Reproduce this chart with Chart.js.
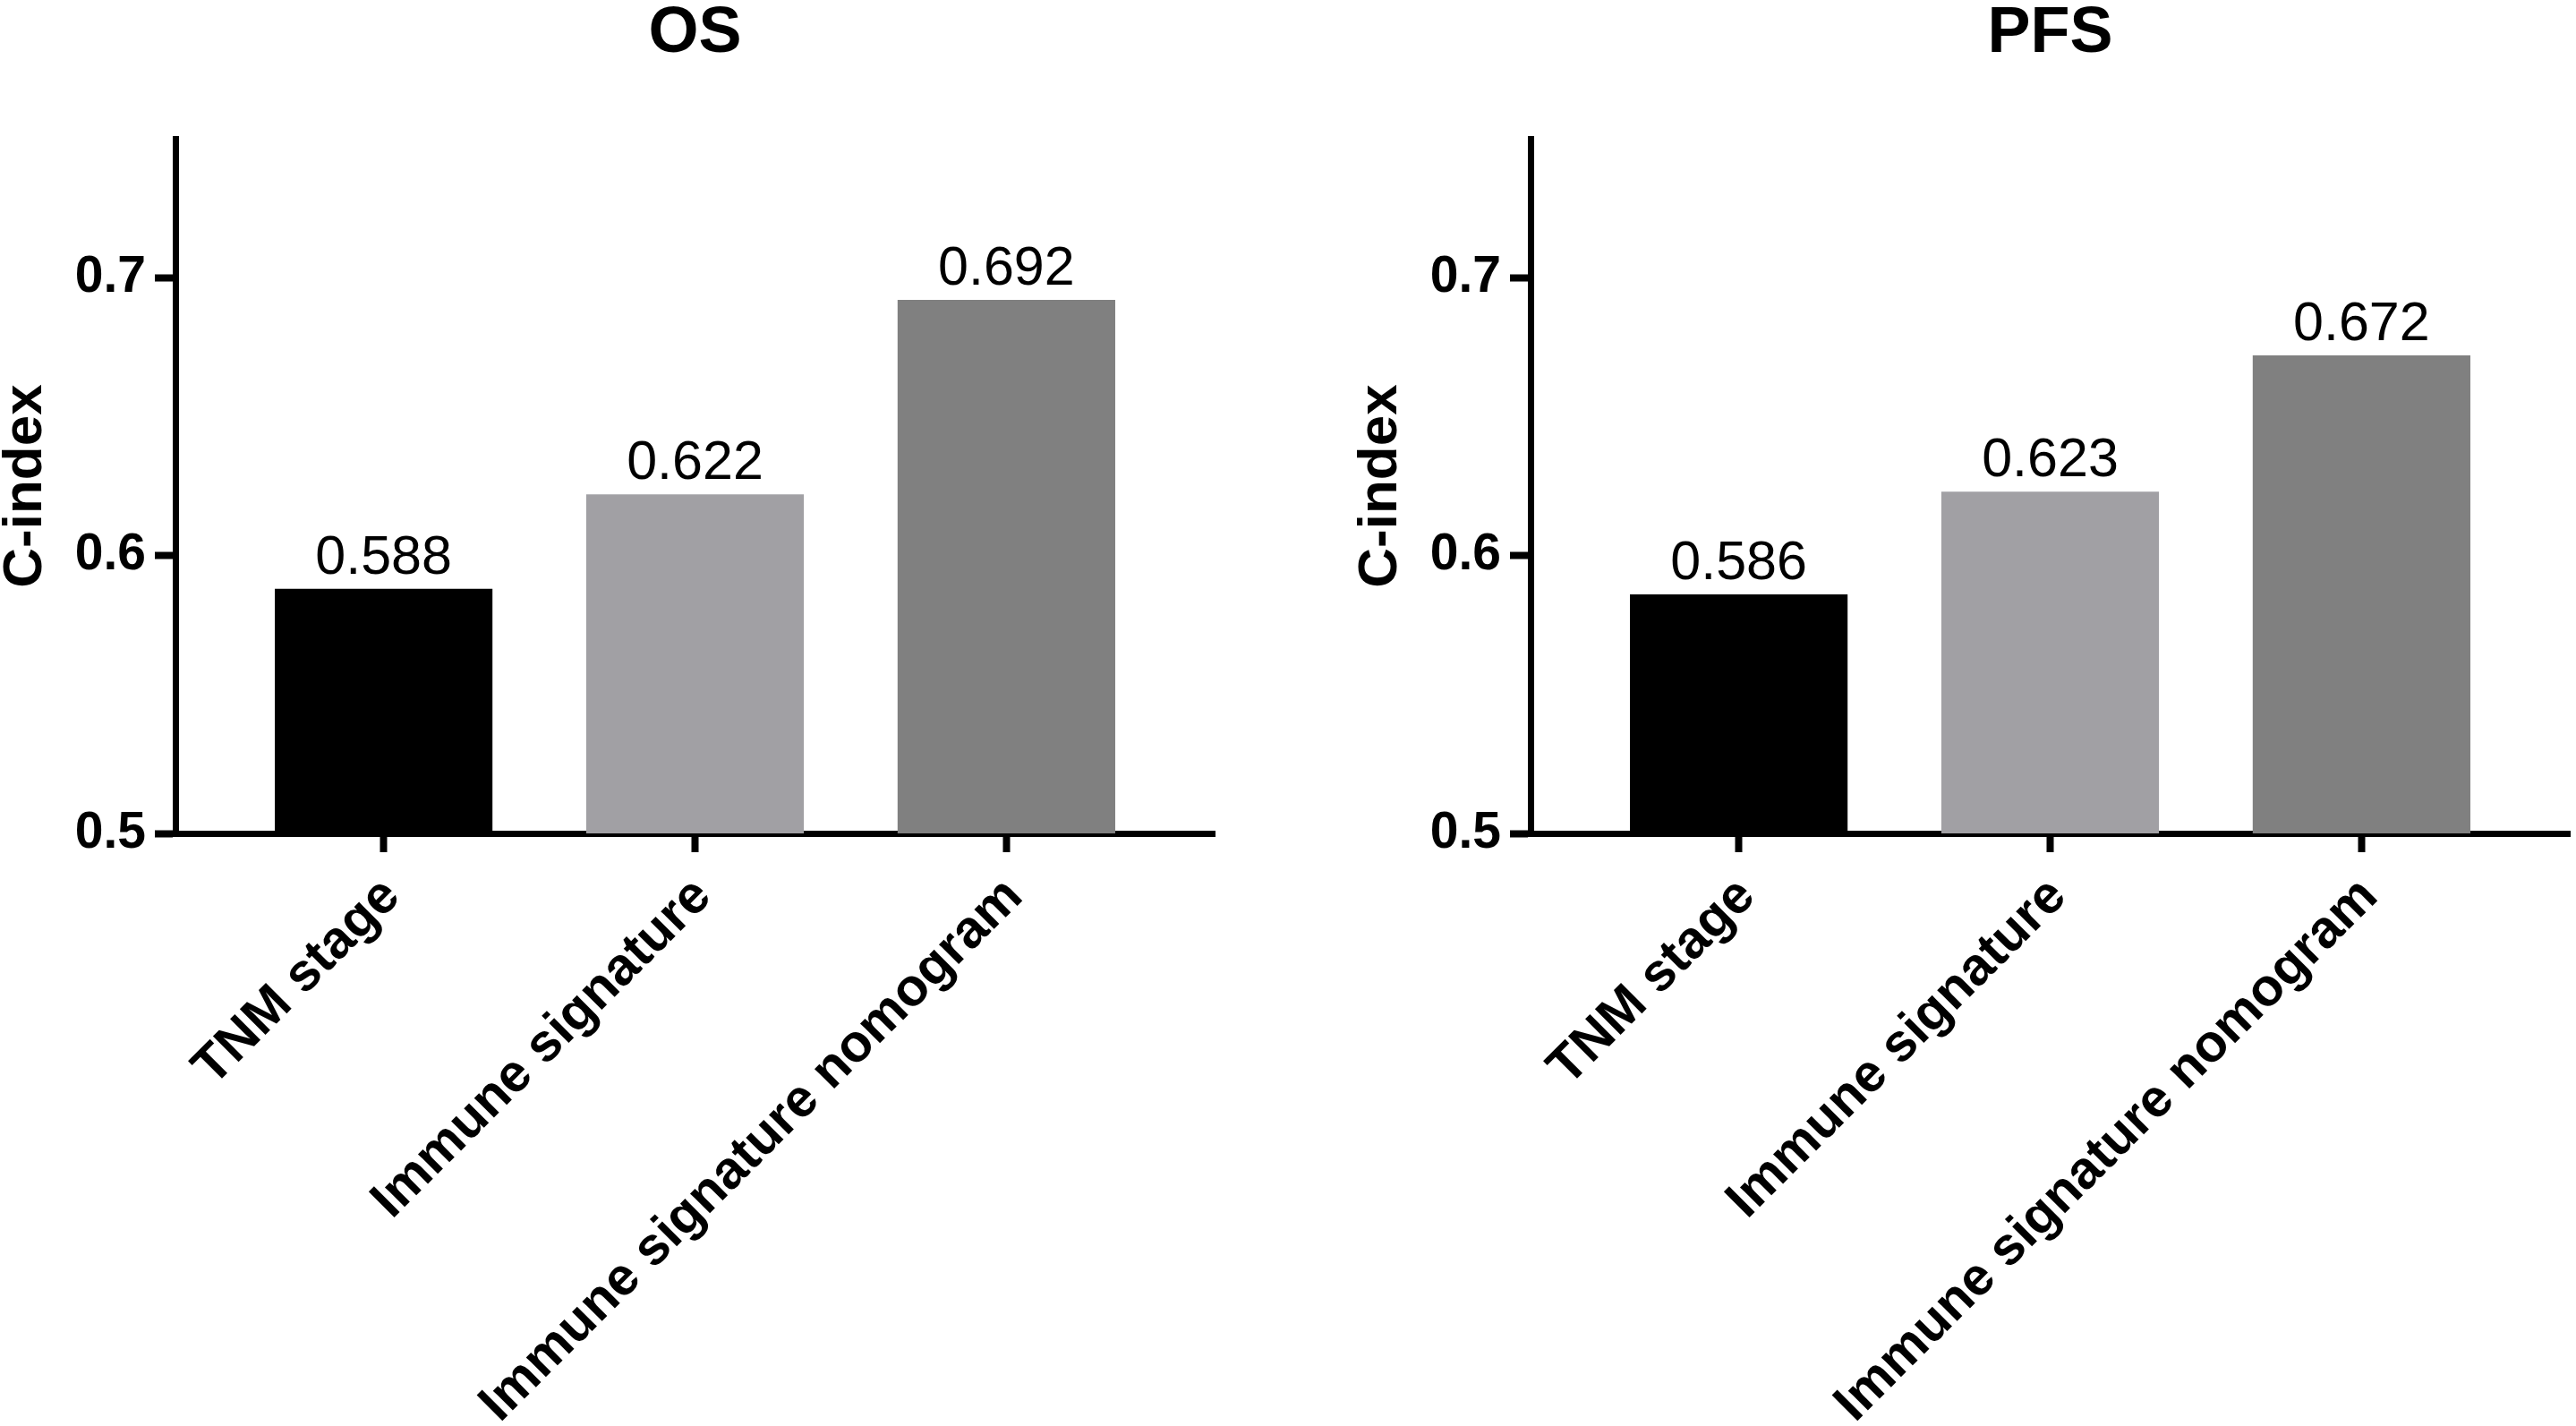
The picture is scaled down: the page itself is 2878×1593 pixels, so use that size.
<!DOCTYPE html>
<html>
<head>
<meta charset="utf-8">
<script src="https://cdn.jsdelivr.net/npm/chart.js@4"></script>
<style>
  body { margin: 0; background: #fff; }
  canvas { position: absolute; top: 0; }
</style>
</head>
<body>
<canvas id="osChart" width="1364" height="1593" style="left:0"></canvas>
<canvas id="pfsChart" width="1364" height="1593" style="left:1514px"></canvas>
<script>
const categories = ['TNM stage', 'Immune signature', 'Immune signature nomogram'];
const osValues = [0.588, 0.622, 0.692];
const pfsValues = [0.586, 0.623, 0.672];
const yTicks = [0.5, 0.6, 0.7];
const barColors = ['#000000', '#a1a0a4', '#808080'];

const FONT = '"Liberation Sans", Arial, sans-serif';
Chart.defaults.color = '#000';
Chart.defaults.font.family = FONT;

// numbers above the bars
const valueLabels = {
    id: 'valueLabels',
    afterDatasetsDraw(chart) {
        const ctx = chart.ctx;
        const meta = chart.getDatasetMeta(0);
        const points = chart.data.datasets[0].data;
        ctx.save();
        ctx.font = '61px ' + FONT;
        ctx.fillStyle = '#000';
        ctx.textAlign = 'center';
        ctx.textBaseline = 'alphabetic';
        meta.data.forEach((bar, i) => {
            ctx.fillText(points[i].y.toFixed(3), bar.x, bar.y - 17);
        });
        ctx.restore();
    },
};

// panel title centred over the plot area, not the whole canvas
const panelTitle = {
    id: 'panelTitle',
    afterDraw(chart, args, opts) {
        const ctx = chart.ctx;
        const area = chart.chartArea;
        ctx.save();
        ctx.font = 'bold 72px ' + FONT;
        ctx.fillStyle = '#000';
        ctx.textAlign = 'center';
        ctx.textBaseline = 'alphabetic';
        ctx.fillText(opts.text, (area.left + area.right) / 2, 58);
        ctx.restore();
    },
};

function drawPanel(canvas, title, values) {
    return new Chart(canvas, {
        type: 'bar',
        data: {
            datasets: [{
                data: values.map((v, i) => ({ x: i, y: v })),
                backgroundColor: barColors,
                borderWidth: 0,
                categoryPercentage: 1,
                barPercentage: 0.699,
            }],
        },
        plugins: [valueLabels, panelTitle],
        options: {
            responsive: false,
            animation: false,
            layout: { padding: { left: 0, right: 7, top: 155, bottom: 0 } },
            plugins: {
                legend: { display: false },
                tooltip: { enabled: false },
                title: { display: false },
                panelTitle: { text: title },
            },
            scales: {
                x: {
                    type: 'linear',
                    offset: false,
                    min: -0.6686,
                    max: 2.6686,
                    afterBuildTicks: s => { s.ticks = categories.map((c, i) => ({ value: i })); },
                    ticks: {
                        stepSize: 1,
                        autoSkip: false,
                        minRotation: 45,
                        maxRotation: 45,
                        padding: 15,
                        labelOffset: 9,
                        font: { size: 59, weight: 'bold' },
                        callback: v => categories[v],
                    },
                    grid: { offset: false, drawOnChartArea: false, tickLength: 21, tickWidth: 8, tickColor: '#000' },
                    border: { width: 7, color: '#000' },
                    afterFit: s => { s.height = 662; },
                },
                y: {
                    min: 0.5,
                    max: 0.75,
                    afterBuildTicks: s => { s.ticks = yTicks.map(v => ({ value: v })); },
                    ticks: {
                        stepSize: 0.1,
                        padding: 10,
                        font: { size: 57, weight: 'bold' },
                        callback: v => v.toFixed(1),
                    },
                    grid: { drawOnChartArea: false, tickLength: 23, tickWidth: 8, tickColor: '#000' },
                    border: { width: 7, color: '#000' },
                    title: {
                        display: true,
                        text: 'C-index',
                        font: { size: 62, weight: 'bold', lineHeight: 1 },
                        padding: { top: -2, bottom: 0 },
                    },
                    afterFit: s => { s.width = 196; },
                },
            },
        },
    });
}

drawPanel(document.getElementById('osChart'), 'OS', osValues);
drawPanel(document.getElementById('pfsChart'), 'PFS', pfsValues);
</script>
</body>
</html>
